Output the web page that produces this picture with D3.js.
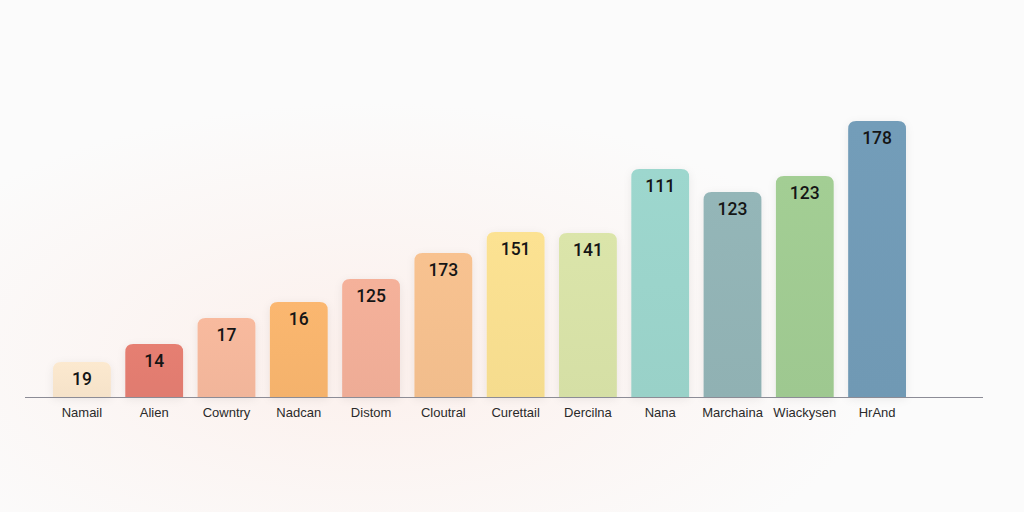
<!DOCTYPE html>
<html>
<head>
<meta charset="utf-8">
<script src="https://cdn.jsdelivr.net/npm/d3@7/dist/d3.min.js"></script>
<style>
  html, body { margin: 0; padding: 0; background: #fbfbfb; }
  svg { display: block; }
</style>
</head>
<body>
<script>
// Data
const categories = ["Namail", "Alien", "Cowntry", "Nadcan", "Distom", "Cloutral",
  "Curettail", "Dercilna", "Nana", "Marchaina", "Wiackysen", "HrAnd"];
const values = [35, 53, 79, 95, 118, 144, 165, 164, 228, 205, 221, 276];
const valueLabels = ["19", "14", "17", "16", "125", "173", "151", "141", "111", "123", "123", "178"];
const colors = ["#f5e2c9", "#e07b6f", "#f1b59a", "#f4b26c", "#eeac96", "#f1bd8c",
  "#f5dc8e", "#d5dfa5", "#99d1c8", "#90b1b3", "#9ec890", "#7099b4"];

const width = 1024, height = 512;
const baseY = 397;

const svg = d3.select("body").append("svg")
  .attr("width", width)
  .attr("height", height);

const defs = svg.append("defs");

// soft background glow
const glow = defs.append("radialGradient").attr("id", "glow")
  .attr("cx", "0.36").attr("cy", "0.7").attr("r", "0.5");
glow.append("stop").attr("offset", "0%").attr("stop-color", "#fcf0ec");
glow.append("stop").attr("offset", "100%").attr("stop-color", "#fbfbfb");

svg.append("rect").attr("width", width).attr("height", height).attr("fill", "url(#glow)");

const shadow = defs.append("filter").attr("id", "shadow")
  .attr("x", "-30%").attr("y", "-30%").attr("width", "160%").attr("height", "160%");
shadow.append("feDropShadow").attr("dx", 0).attr("dy", 2).attr("stdDeviation", 4)
  .attr("flood-color", "#000").attr("flood-opacity", 0.07);

// vertical shading per bar
colors.forEach((c, i) => {
  const g = defs.append("linearGradient").attr("id", "bar" + i)
    .attr("x1", 0).attr("y1", 0).attr("x2", 0).attr("y2", 1);
  g.append("stop").attr("offset", "0%").attr("stop-color", d3.color(c).brighter(0.08));
  g.append("stop").attr("offset", "100%").attr("stop-color", c);
});

// Scales
const x = d3.scaleBand().domain(categories).range([53, 906]).paddingInner(0.2).paddingOuter(0);
const y = d3.scaleLinear().domain([0, 300]).range([baseY, baseY - 300]);

const data = categories.map((c, i) => ({ cat: c, value: values[i], label: valueLabels[i], i }));

// bar with rounded top corners
function barPath(d) {
  const x0 = x(d.cat), w = x.bandwidth();
  const top = y(d.value), r = 8;
  return `M${x0},${baseY}V${top + r}Q${x0},${top} ${x0 + r},${top}` +
    `H${x0 + w - r}Q${x0 + w},${top} ${x0 + w},${top + r}V${baseY}Z`;
}

svg.append("g").selectAll("path")
  .data(data)
  .join("path")
  .attr("d", barPath)
  .attr("fill", d => `url(#bar${d.i})`)
  .attr("filter", "url(#shadow)");

// value labels inside the bars
svg.append("g").selectAll("text")
  .data(data)
  .join("text")
  .attr("x", d => x(d.cat) + x.bandwidth() / 2)
  .attr("y", d => y(d.value) + 23)
  .attr("text-anchor", "middle")
  .attr("font-family", "Roboto, 'DejaVu Sans', sans-serif")
  .attr("font-weight", 500)
  .attr("font-size", 17.5)
  .attr("fill", "#151515")
  .text(d => d.label);

// baseline axis
svg.append("line")
  .attr("x1", 25).attr("x2", 983)
  .attr("y1", baseY + 0.5).attr("y2", baseY + 0.5)
  .attr("stroke", "#8c8c96").attr("stroke-width", 1);

// category labels
const xaxis = d3.axisBottom(x).tickSize(0).tickPadding(11);
const gx = svg.append("g").attr("transform", `translate(0,${baseY})`).call(xaxis);
gx.select(".domain").remove();
gx.selectAll("text")
  .attr("font-family", "Arial, 'Liberation Sans', sans-serif")
  .attr("font-size", 13)
  .attr("fill", "#2a2a2a");
</script>
</body>
</html>
